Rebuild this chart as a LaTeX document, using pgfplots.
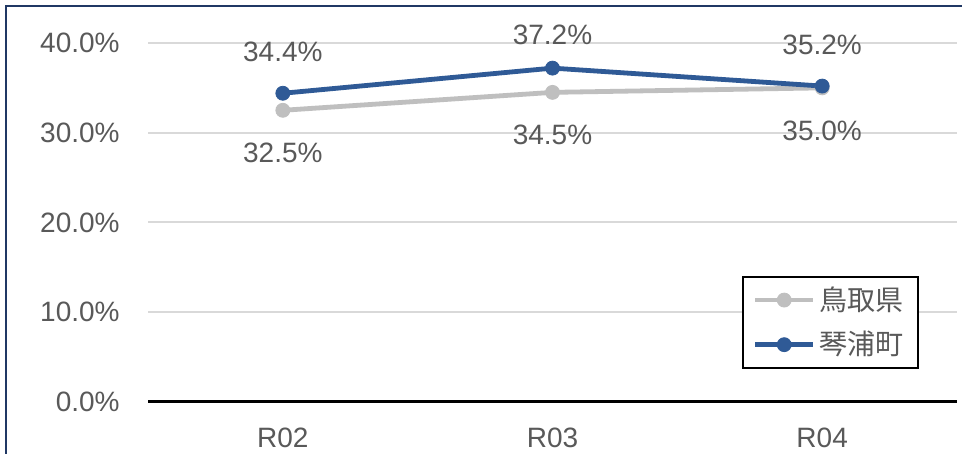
\documentclass[border=0pt]{standalone}
\usepackage{fontspec}
\setmainfont{Liberation Sans}
\newfontfamily\cjk{Noto Sans CJK JP}
\usepackage{pgfplots}
\pgfplotsset{compat=1.18}
\definecolor{frameblue}{HTML}{203864}
\definecolor{lineblue}{HTML}{2F5A96}
\definecolor{linegray}{HTML}{BFBFBF}
\definecolor{txt}{HTML}{595959}
\definecolor{gridc}{HTML}{D9D9D9}
\newcommand{\lblfont}{\fontsize{14}{16}\selectfont}

\begin{document}
\begin{tikzpicture}
\useasboundingbox (0,0) rectangle (481pt,227pt);
\fill[white] (0,0) rectangle (481pt,227pt);
\draw[frameblue, line width=1.2pt] (3pt,0) -- (3pt,224pt) -- (481pt,224pt);
\begin{axis}[
  at={(74pt,26pt)}, anchor=south west,
  scale only axis, width=404.5pt, height=179.5pt,
  xmin=-0.5, xmax=2.5, ymin=0, ymax=40,
  axis x line*=bottom, axis y line*=left,
  y axis line style={draw=none},
  x axis line style={black, line width=1.5pt},
  major tick length=0pt,
  xtick={0,1,2}, xticklabels={R02,R03,R04},
  ytick={0,10,20,30,40},
  yticklabel={\pgfmathprintnumber[fixed,fixed zerofill,precision=1]{\tick}\%},
  /pgf/number format/assume math mode=true,
  ymajorgrids, grid style={gridc, line width=1pt},
  ticklabel style={font=\lblfont, text=txt, inner sep=0pt},
  yticklabel style={anchor=east, xshift=-14pt},
  xticklabel style={anchor=north, yshift=-13pt},
  legend style={at={(0.734,0.092)}, anchor=south west, draw=black, line width=1pt,
    font=\cjk\fontsize{14}{16}\selectfont, text=txt,
    inner xsep=5pt, inner ysep=3pt, row sep=5pt, cells={anchor=west}},
  legend image code/.code={\draw[mark repeat=2, mark phase=2, #1] plot coordinates {(0pt,0pt) (14.5pt,0pt) (29pt,0pt)};},
  clip=false,
]
\addplot[linegray, line width=2.4pt, mark=*, mark size=3.5pt,
  mark options={fill=linegray, draw=linegray, line width=0.4pt},
  nodes near coords={\pgfmathprintnumber[fixed,fixed zerofill,precision=1,assume math mode=true]{\pgfplotspointmeta}\%},
  every node near coord/.style={anchor=center, yshift=-21.5pt, text=txt, font=\lblfont}]
  coordinates {(0,32.5) (1,34.5) (2,35.0)};
\addlegendentry{鳥取県}
\addplot[lineblue, line width=2.4pt, mark=*, mark size=3.5pt,
  mark options={fill=lineblue, draw=lineblue, line width=0.4pt},
  visualization depends on={\thisrow{dy} \as \dy},
  nodes near coords={\pgfmathprintnumber[fixed,fixed zerofill,precision=1,assume math mode=true]{\pgfplotspointmeta}\%},
  every node near coord/.style={anchor=center, yshift=\dy pt, text=txt, font=\lblfont}]
  table[x=x, y=y] {
x y dy
0 34.4 20.5
1 37.2 16.5
2 35.2 20.5
};
\addlegendentry{琴浦町}
\end{axis}
\end{tikzpicture}
\end{document}
